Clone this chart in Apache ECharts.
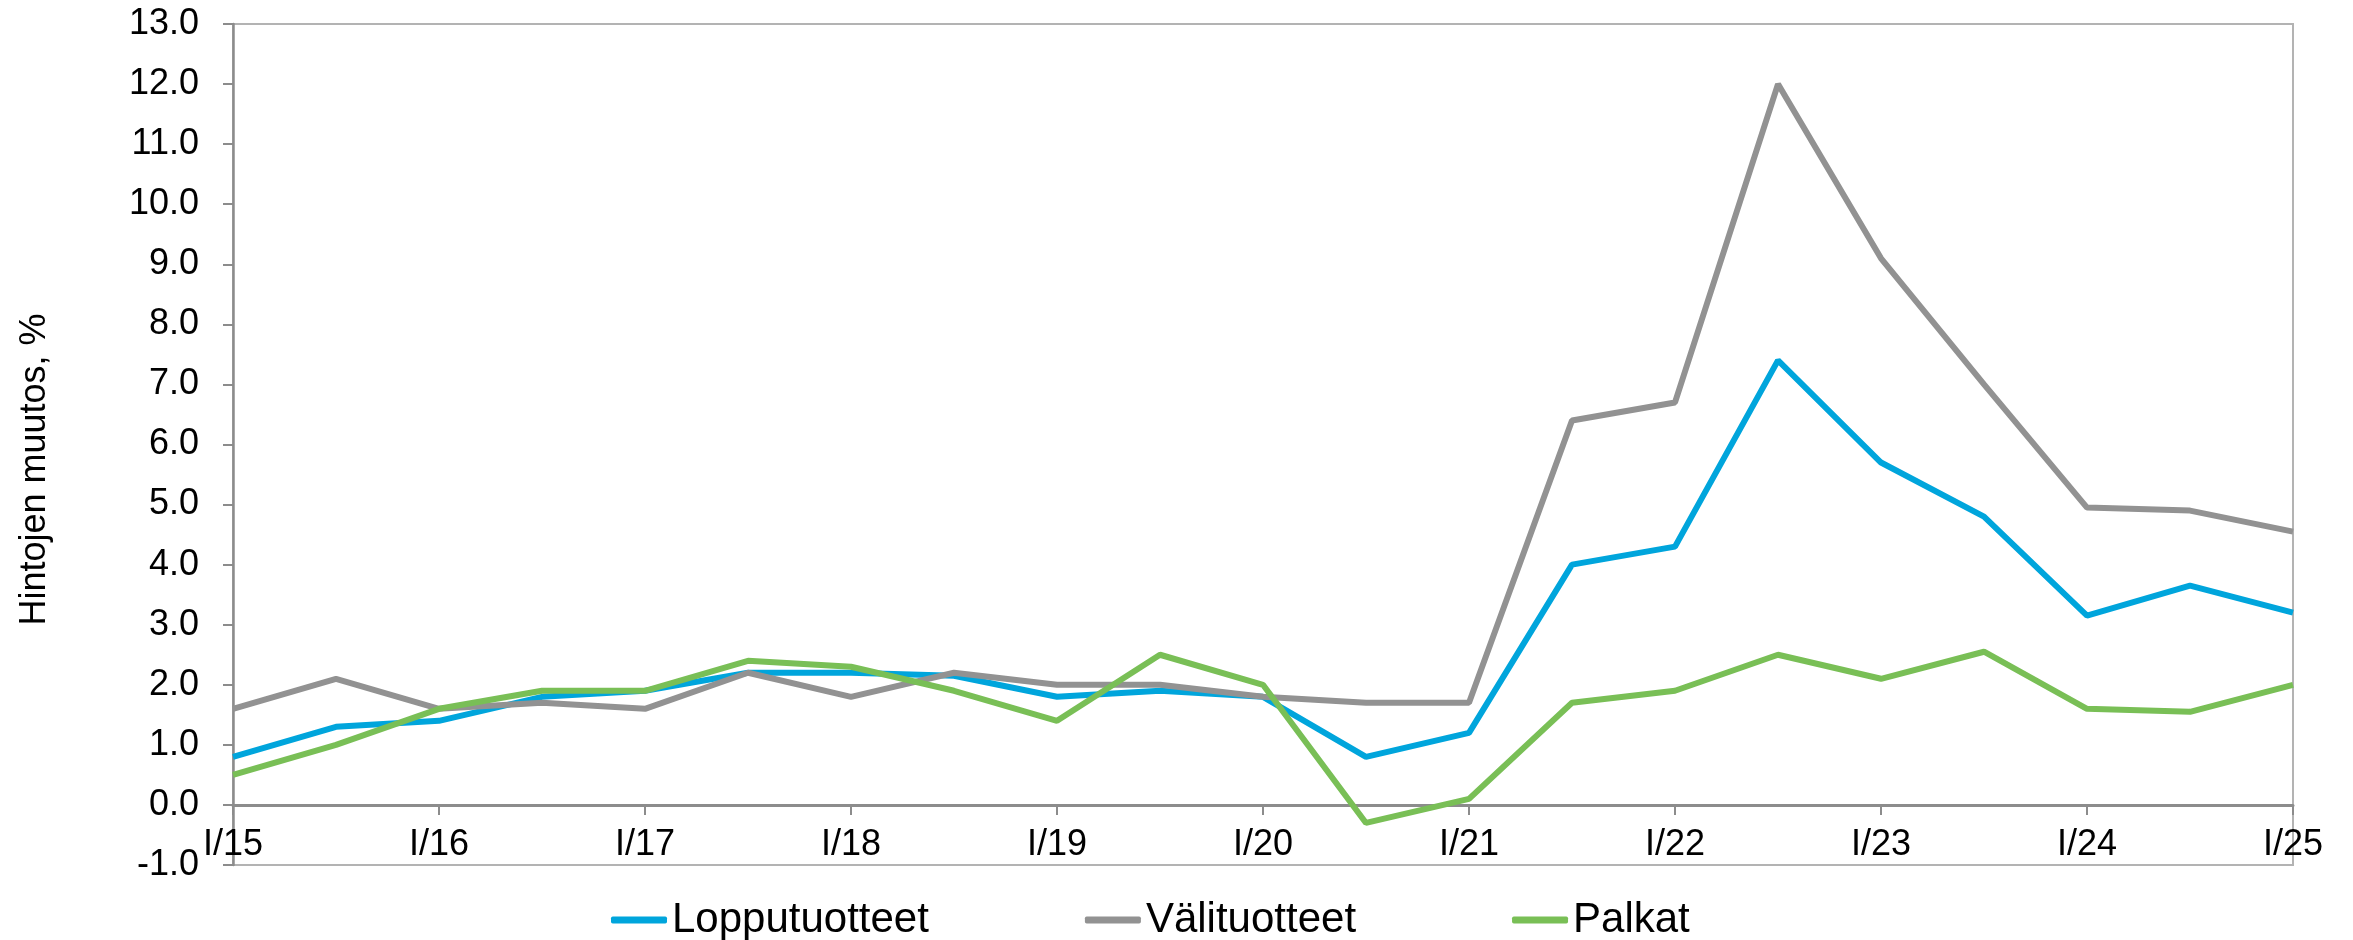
<!DOCTYPE html>
<html>
<head>
<meta charset="utf-8">
<script src="https://cdn.jsdelivr.net/npm/echarts@6/dist/echarts.min.js"></script>
<style>
  html, body { margin: 0; padding: 0; background: #fff; }
  #chart { width: 2353px; height: 940px; }
</style>
</head>
<body>
<div id="chart"></div>
<script>
// half-year periods, I/15 ... I/25
const periods = [
  'I/15', 'II/15', 'I/16', 'II/16', 'I/17', 'II/17', 'I/18', 'II/18', 'I/19', 'II/19',
  'I/20', 'II/20', 'I/21', 'II/21', 'I/22', 'II/22', 'I/23', 'II/23', 'I/24', 'II/24', 'I/25'
]
const lopputuotteet = [0.8, 1.3, 1.4, 1.8, 1.9, 2.2, 2.2, 2.15, 1.8, 1.9, 1.8, 0.8, 1.2, 4.0, 4.3, 7.4, 5.7, 4.8, 3.15, 3.65, 3.2]
const valituotteet = [1.6, 2.1, 1.6, 1.7, 1.6, 2.2, 1.8, 2.2, 2.0, 2.0, 1.8, 1.7, 1.7, 6.4, 6.7, 12.0, 9.1, 7.0, 4.95, 4.9, 4.55]
const palkat = [0.5, 1.0, 1.6, 1.9, 1.9, 2.4, 2.3, 1.9, 1.4, 2.5, 2.0, -0.3, 0.1, 1.7, 1.9, 2.5, 2.1, 2.55, 1.6, 1.55, 2.0]

const seriesNames = ['Lopputuotteet', 'Välituotteet', 'Palkat']
const colors = ['#00a5dc', '#929292', '#79bf56']

const yMin = -1
const yMax = 13

const font = 'Liberation Sans, Arial, sans-serif'

const gridTop = 24
const gridBottom = 75
const gridHeight = 940 - gridTop - gridBottom
// x axis sits on the zero line, one unit above the bottom of the plot
const zeroOffset = (gridHeight * (0 - yMin)) / (yMax - yMin)

const chart = echarts.init(document.getElementById('chart'))

function lineSeries(name, data, color) {
  return {
    name: name,
    type: 'line',
    data: data,
    symbol: 'none',
    smooth: false,
    lineStyle: { width: 6, color: color },
    itemStyle: { color: color }
  }
}

const option = {
  animation: false,
  textStyle: { fontFamily: font },
  grid: {
    left: 233,
    right: 60,
    top: gridTop,
    bottom: gridBottom,
    show: true,
    borderColor: '#b3b3b3',
    borderWidth: 2
  },
  legend: {
    left: 606,
    top: 894,
    itemGap: 156,
    itemWidth: 56,
    itemHeight: 7,
    icon: 'roundRect',
    textStyle: { fontSize: 42, color: '#000', fontFamily: font },
    data: seriesNames
  },
  xAxis: {
    type: 'category',
    data: periods,
    boundaryGap: false,
    offset: -zeroOffset,
    axisLine: { onZero: false, lineStyle: { color: '#8c8c8c', width: 3 } },
    axisTick: { show: true, interval: 1, length: 10, lineStyle: { color: '#8c8c8c', width: 2 } },
    axisLabel: { interval: 1, margin: 22, fontSize: 36, color: '#000', fontFamily: font },
    splitLine: { show: false }
  },
  yAxis: {
    type: 'value',
    min: yMin,
    max: yMax,
    interval: 1,
    name: 'Hintojen muutos, %',
    nameLocation: 'middle',
    nameGap: 180,
    nameTextStyle: { fontSize: 36, color: '#000', fontFamily: font, padding: [0, 50, 0, 0] },
    axisLine: { show: true, lineStyle: { color: '#8c8c8c', width: 2.5 } },
    axisTick: { show: true, length: 10, lineStyle: { color: '#8c8c8c', width: 2 } },
    axisLabel: {
      margin: 34,
      fontSize: 36,
      color: '#000',
      fontFamily: font,
      formatter: (v) => v.toFixed(1)
    },
    splitLine: { show: false }
  },
  series: [
    lineSeries(seriesNames[0], lopputuotteet, colors[0]),
    lineSeries(seriesNames[1], valituotteet, colors[1]),
    lineSeries(seriesNames[2], palkat, colors[2])
  ]
}

chart.setOption(option)
</script>
</body>
</html>
